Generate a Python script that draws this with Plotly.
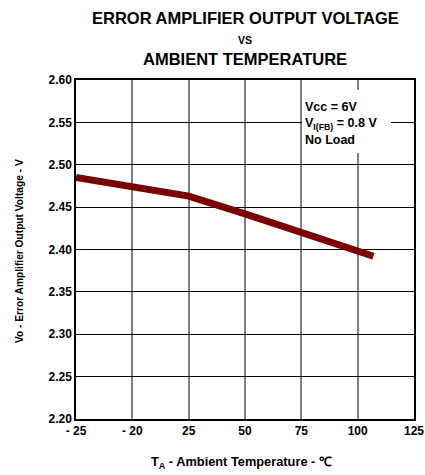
import plotly.graph_objects as go

# Data
temp_c = [-25, 0, 25, 50, 75, 107]
vo_volts = [2.485, 2.474, 2.463, 2.442, 2.421, 2.392]

x_tickvals = [-25, 0, 25, 50, 75, 100, 125]
x_ticktext = ["- 25", "- 20", "25", "50", "75", "100", "125"]
y_tickvals = [2.20, 2.25, 2.30, 2.35, 2.40, 2.45, 2.50, 2.55, 2.60]
y_ticktext = ["2.20", "2.25", "2.30", "2.35", "2.40", "2.45", "2.50", "2.55", "2.60"]

FONT = "Liberation Sans, Arial, sans-serif"

fig = go.Figure()
fig.add_trace(go.Scatter(
    x=temp_c, y=vo_volts, mode="lines",
    line=dict(color="#7a0000", width=7),
    hoverinfo="skip", showlegend=False,
))

fig.update_layout(
    width=425, height=475,
    margin=dict(l=76, r=11, t=80, b=56, autoexpand=False),
    paper_bgcolor="white", plot_bgcolor="white",
    font=dict(family=FONT, color="black", size=12, weight="bold"),
    showlegend=False,
)

fig.update_xaxes(
    range=[-25, 125], tickvals=x_tickvals, ticktext=x_ticktext,
    showgrid=True, gridcolor="#7f7f7f", gridwidth=1.5,
    showline=True, linecolor="black", linewidth=1.5, mirror=True,
    ticks="", zeroline=False, automargin=False,
    tickfont=dict(family=FONT, size=12, weight="bold", color="black"),
)
fig.update_yaxes(
    range=[2.20, 2.60], tickvals=y_tickvals, ticktext=y_ticktext,
    showgrid=True, gridcolor="black", gridwidth=1,
    showline=True, linecolor="black", linewidth=1.5, mirror=True,
    ticks="", zeroline=False, automargin=False,
    tickfont=dict(family=FONT, size=12, weight="bold", color="black"),
)

# white box breaking the gridlines behind the condition text
fig.add_shape(type="rect", xref="paper", yref="paper",
              x0=0.669, x1=0.932, y0=0.785, y1=0.9705,
              fillcolor="white", line=dict(width=0), layer="above")

fig.add_annotation(
    xref="paper", yref="paper", x=0.672, y=0.947, xanchor="left", yanchor="top",
    text="Vcc = 6V<br>V<sub>I(FB)</sub> = 0.8 V<br>No Load",
    align="left", showarrow=False,
    font=dict(family=FONT, size=12.5, weight="bold", color="black"),
)

# titles
fig.add_annotation(xref="paper", yref="paper", x=0.5, y=1.183, yanchor="middle",
                   text="ERROR AMPLIFIER OUTPUT VOLTAGE", showarrow=False,
                   font=dict(family=FONT, size=16.5, weight="bold", color="black"))
fig.add_annotation(xref="paper", yref="paper", x=0.5, y=1.118, yanchor="middle",
                   text="VS", showarrow=False,
                   font=dict(family=FONT, size=10.5, weight="bold", color="black"))
fig.add_annotation(xref="paper", yref="paper", x=0.5, y=1.062, yanchor="middle",
                   text="AMBIENT TEMPERATURE", showarrow=False,
                   font=dict(family=FONT, size=16.5, weight="bold", color="black"))

# axis titles
fig.add_annotation(xref="paper", yref="paper", x=0.49, y=-0.127, yanchor="middle",
                   text="T<sub>A</sub> - Ambient Temperature - ℃", showarrow=False,
                   font=dict(family=FONT, size=12.8, weight="bold", color="black"))
fig.add_annotation(xref="paper", yref="paper", x=-0.169, y=0.495, xanchor="center",
                   yanchor="middle", textangle=-90,
                   text="Vo - Error Amplifier Output Voltage - V", showarrow=False,
                   font=dict(family=FONT, size=10.2, weight="bold", color="black"))

fig.write_html("out.html", config={"displayModeBar": False},
               post_script="document.body.style.margin='0';")
